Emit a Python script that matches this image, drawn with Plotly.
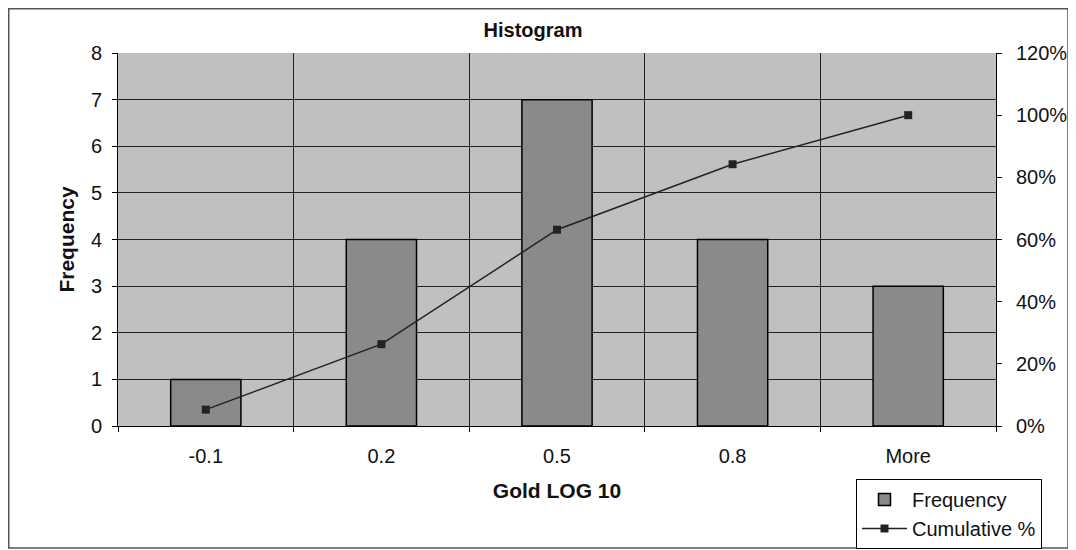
import plotly.graph_objects as go

categories = ["-0.1", "0.2", "0.5", "0.8", "More"]
frequency = [1, 4, 7, 4, 3]
cumulative_pct = [0.0526, 0.2632, 0.6316, 0.8421, 1.0]

FONT = "Liberation Sans, Arial, sans-serif"

fig = go.Figure()
fig.add_trace(go.Bar(
    x=categories, y=frequency, name="Frequency",
    marker=dict(color="#8a8a8a", line=dict(color="#000000", width=1.5)),
    width=0.4,
))
fig.add_trace(go.Scatter(
    x=categories, y=cumulative_pct, name="Cumulative %", yaxis="y2",
    mode="lines+markers",
    line=dict(color="#222222", width=1.5),
    marker=dict(symbol="square", size=8, color="#222222"),
))

# page has an 8px body margin; work in screenshot pixels and shift
OFF = 8
W, H = 1076 - OFF, 550 - OFF
plot_l, plot_r, plot_t, plot_b = 118 - OFF, 996 - OFF, 53 - OFF, 426 - OFF
ml, mr, mt, mb = plot_l, W - plot_r, plot_t, H - plot_b
pw, ph = W - ml - mr, H - mt - mb

def px_x(p):
    return (p - OFF - ml) / pw

def px_y(p):
    return (plot_b - (p - OFF)) / ph

fig.update_layout(
    width=W, height=H,
    margin=dict(l=ml, r=mr, t=mt, b=mb, autoexpand=False),
    paper_bgcolor="white",
    plot_bgcolor="#c0c0c0",
    font=dict(family=FONT, size=20, color="#111111"),
    title=dict(text="<b>Histogram</b>", x=px_x(533), xref="paper", xanchor="center",
               y=1 - (30 - OFF) / H, yanchor="middle",
               font=dict(size=20, family=FONT)),
    showlegend=True,
    legend=dict(
        x=px_x(856), y=px_y(479), xanchor="left", yanchor="top",
        bgcolor="white", bordercolor="#000000", borderwidth=1,
        font=dict(size=20, family=FONT), tracegroupgap=0,
        itemwidth=45,
    ),
    xaxis=dict(
        type="category", tickson="boundaries",
        showgrid=True, gridcolor="#222222", gridwidth=1,
        showline=True, linecolor="#000000", linewidth=1,
        ticks="outside", ticklen=5, tickcolor="#000000",
        tickfont=dict(size=20), ticklabelstandoff=12,
        title=dict(text="<b>Gold LOG 10</b>", font=dict(size=21), standoff=17),
        range=[-0.5, 4.5], automargin=False,
    ),
    yaxis=dict(
        range=[0, 8], dtick=1,
        showgrid=True, gridcolor="#222222", gridwidth=1,
        showline=True, linecolor="#000000", linewidth=1,
        ticks="outside", ticklen=5, tickcolor="#000000",
        tickfont=dict(size=20), ticklabelstandoff=6,
        title=dict(text="<b>Frequency</b>", font=dict(size=21), standoff=10),
        zeroline=False, automargin=False,
    ),
    yaxis2=dict(
        overlaying="y", side="right",
        range=[0, 1.2], dtick=0.2, tickformat=".0%",
        showgrid=False, zeroline=False,
        showline=True, linecolor="#000000", linewidth=1,
        ticks="outside", ticklen=5, tickcolor="#000000",
        tickfont=dict(size=20), ticklabelstandoff=10, automargin=False,
    ),
    bargap=0.6,
)

fig.add_shape(
    type="rect", xref="paper", yref="paper",
    x0=px_x(8.75), x1=px_x(1068), y0=px_y(548), y1=px_y(8.75),
    line=dict(color="#555555", width=1.5), fillcolor="rgba(0,0,0,0)",
    layer="below",
)

fig.write_html("out.html")
